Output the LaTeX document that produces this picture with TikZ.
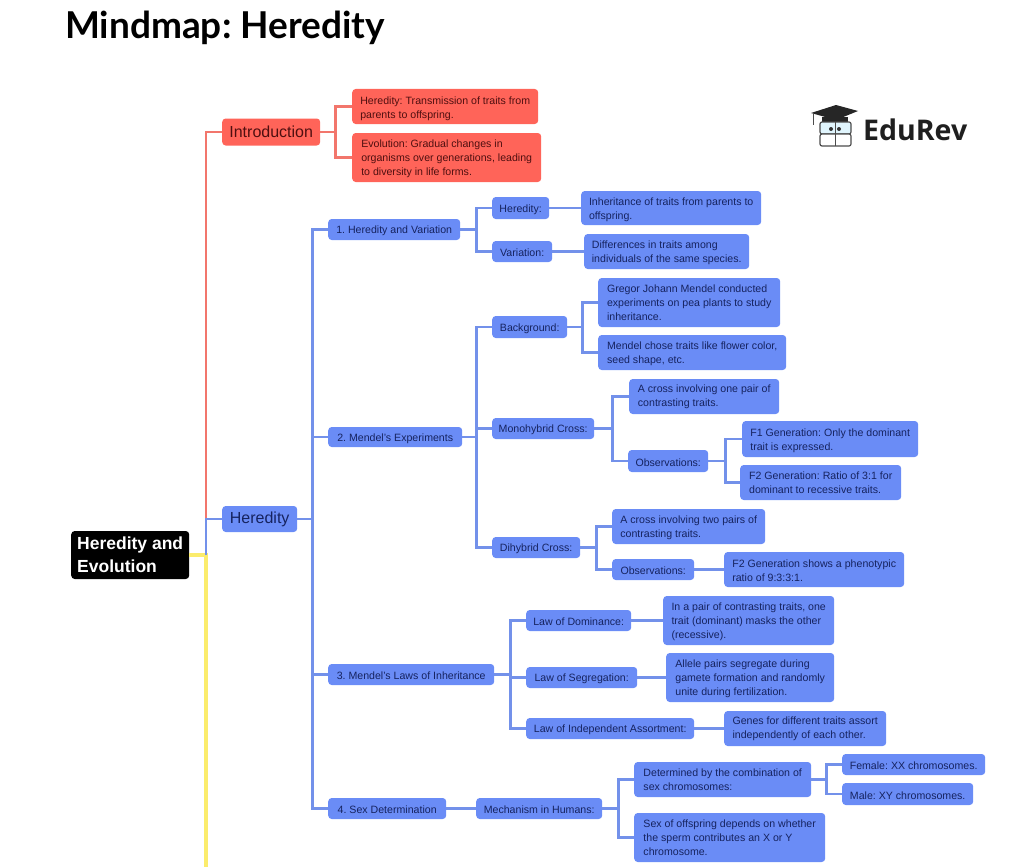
\documentclass[tikz,border=0pt]{standalone}
\usepackage{fontspec}
\setmainfont{Liberation Sans}
\newfontfamily\titlefont{Lato}
\newfontfamily\logofont{Open Sans}
\usetikzlibrary{positioning}

\definecolor{mapred}{HTML}{FF6459}
\definecolor{mapblue}{HTML}{6A8CF6}
\definecolor{linkblue}{HTML}{7391EA}
\definecolor{linkred}{HTML}{F2766C}
\definecolor{linkyellow}{HTML}{FBEC6C}
\definecolor{inkblue}{HTML}{16235F}
\definecolor{inkred}{HTML}{4F0F10}
\newcommand{\liftone}{\rule{0pt}{9.8pt}}
\newcommand{\lifttwo}{\rule{0pt}{11.8pt}}

\begin{document}
\frenchspacing
\begin{tikzpicture}[
    x=1pt, y=-1pt,
    box/.style={anchor=west, rounded corners=3.5pt, align=left, inner sep=0pt,
        font=\fontsize{10.6}{14}\selectfont, execute at begin node={\rule{0pt}{10.8pt}}},
    bluebox/.style 2 args={box, fill=mapblue, text=inkblue, minimum width=#1pt, minimum height=#2pt},
    redbox/.style 2 args={box, fill=mapred, text=inkred, minimum width=#1pt, minimum height=#2pt},
    bluelink/.style={linkblue, line width=2.8pt},
    redlink/.style={linkred, line width=2.8pt},
    yellowlink/.style={linkyellow, line width=3.2pt},
]
\useasboundingbox (0,0) rectangle (1015,867);

% Title
\node[anchor=base west, inner sep=0pt, font=\titlefont\bfseries\fontsize{37}{40}\selectfont] (title) at (65,39) {Mindmap: Heredity};

% Root
\node[box, fill=black, text=white, minimum width=118pt, minimum height=48pt,
    font=\bfseries\fontsize{17.5}{23}\selectfont] (root) at (71,555) {Heredity and\\Evolution};
\coordinate (rootbus) at (206,555);
\coordinate (rootend) at (206,867);

% Introduction
\node[redbox={98}{27}, font=\fontsize{16}{18}\selectfont] (intro) at (222,132) {Introduction};
\node[redbox={186}{35}] (introa) at (352,106.5) {\lifttwo Heredity: Transmission of traits from\\parents to offspring.};
\node[redbox={189}{49}] (introb) at (352,157.5) {\liftone Evolution: Gradual changes in\\organisms over generations, leading\\to diversity in life forms.};

% Heredity
\node[bluebox={75}{26}, font=\fontsize{16}{18}\selectfont] (hered) at (222,519) {Heredity};

% 1. Heredity and Variation
\node[bluebox={132}{21}] (one) at (328,229.5) {1. Heredity and Variation};
\node[bluebox={57}{22}] (onea) at (492,208) {Heredity:};
\node[bluebox={60}{21}] (oneb) at (492,251.5) {Variation:};
\node[bluebox={180}{34}] (oneaa) at (581,208) {\lifttwo Inheritance of traits from parents to\\offspring.};
\node[bluebox={165}{35}] (oneba) at (584,251.5) {\liftone Differences in traits among\\individuals of the same species.};

% 2. Mendel's Experiments
\node[bluebox={134}{20}] (two) at (328,437) {2. Mendel's Experiments};
\node[bluebox={75}{22}] (back) at (492,327) {Background:};
\node[bluebox={182}{49}] (backa) at (598,302.5) {Gregor Johann Mendel conducted\\experiments on pea plants to study\\inheritance.};
\node[bluebox={188}{35}] (backb) at (598,352.5) {\liftone Mendel chose traits like flower color,\\seed shape, etc.};
\node[bluebox={102}{21}] (mono) at (492,428.5) {Monohybrid Cross:};
\node[bluebox={150}{35}] (monoa) at (629,396.5) {A cross involving one pair of\\contrasting traits.};
\node[bluebox={80}{22}] (monob) at (628,461) {Observations:};
\node[bluebox={176}{36}] (monoba) at (742,439) {\lifttwo F1 Generation: Only the dominant\\trait is expressed.};
\node[bluebox={161}{35}] (monobb) at (740,482.5) {F2 Generation: Ratio of 3:1 for\\dominant to recessive traits.};
\node[bluebox={88}{21}] (dihy) at (492,547.5) {Dihybrid Cross:};
\node[bluebox={153}{35}] (dihya) at (612,526.5) {\liftone A cross involving two pairs of\\contrasting traits.};
\node[bluebox={82}{21}] (dihyb) at (612,569.5) {Observations:};
\node[bluebox={180}{35}] (dihyba) at (724,569.5) {\liftone F2 Generation shows a phenotypic\\ratio of 9:3:3:1.};

% 3. Mendel's Laws
\node[bluebox={166}{21}] (three) at (328,674.5) {3. Mendel's Laws of Inheritance};
\node[bluebox={105}{21}] (lawa) at (526,620.5) {Law of Dominance:};
\node[bluebox={171}{49}] (lawaa) at (663,620.5) {\liftone In a pair of contrasting traits, one\\trait (dominant) masks the other\\(recessive).};
\node[bluebox={111}{21}] (lawb) at (526,677.5) {Law of Segregation:};
\node[bluebox={168}{49}] (lawba) at (666,677.5) {\liftone Allele pairs segregate during\\gamete formation and randomly\\unite during fertilization.};
\node[bluebox={168}{21}] (lawc) at (526,728.5) {Law of Independent Assortment:};
\node[bluebox={162}{35}] (lawca) at (724,728.5) {Genes for different traits assort\\independently of each other.};

% 4. Sex Determination
\node[bluebox={118}{21}] (four) at (328,808.5) {4. Sex Determination};
\node[bluebox={126}{21}] (mech) at (476,808.5) {Mechanism in Humans:};
\node[bluebox={177}{35}] (mecha) at (634,779.5) {Determined by the combination of\\sex chromosomes:};
\node[bluebox={143}{21}] (mechaa) at (842,764.5) {Female: XX chromosomes.};
\node[bluebox={131}{22}] (mechab) at (842,794) {Male: XY chromosomes.};
\node[bluebox={191}{49}] (mechb) at (634,837.5) {Sex of offspring depends on whether\\the sperm contributes an X or Y\\chromosome.};

% Connectors
\draw[yellowlink] (root.east |- rootbus) -- (rootbus) -- (rootend);
\draw[redlink] (rootbus) |- (intro.west);
\draw[bluelink] (rootbus) |- (hered.west);
\foreach \from/\to/\gap in {intro/introa/15, intro/introb/15} {
    \draw[redlink] (\from.east) -- ++(\gap,0) |- (\to.west);
}
\foreach \from/\to/\gap in {hered/one/15, hered/two/15, hered/three/15, hered/four/15,
    one/onea/16, one/oneb/16, onea/oneaa/16, oneb/oneba/16,
    two/back/14, two/mono/14, two/dihy/14,
    back/backa/15, back/backb/15, mono/monoa/18, mono/monob/18,
    monob/monoba/17, monob/monobb/17, dihy/dihya/16, dihy/dihyb/16, dihyb/dihyba/15,
    three/lawa/16, three/lawb/16, three/lawc/16, lawa/lawaa/16, lawb/lawba/14, lawc/lawca/15,
    four/mech/15, mech/mecha/16, mech/mechb/16, mecha/mechaa/15, mecha/mechab/15} {
    \draw[bluelink] (\from.east) -- ++(\gap,0) |- (\to.west);
}

% Logo
\fill[black!85] (811,113) -- (836,105) -- (858,111) -- (836,120) -- cycle;
\fill[black!85] (822,117) -- (848,117) -- (848,122) -- (822,122) -- cycle;
\draw[black!70, line width=1pt] (813,113) -- (813,125);
\draw[black!70, fill=cyan!12, line width=1.2pt, rounded corners=2pt] (820,122) rectangle (851,134);
\draw[black!70, fill=white, line width=1.2pt, rounded corners=2pt] (820,134) rectangle (851,146);
\draw[black!70, line width=1pt] (835,122) -- (835,146);
\fill[black!80] (831,129) circle (2pt) (839,129) circle (2pt);
\node[anchor=base west, inner sep=0pt, text=black!88, font=\logofont\bfseries\fontsize{28.5}{30}\selectfont] (logo) at (863,140) {EduRev};
\end{tikzpicture}
\end{document}
